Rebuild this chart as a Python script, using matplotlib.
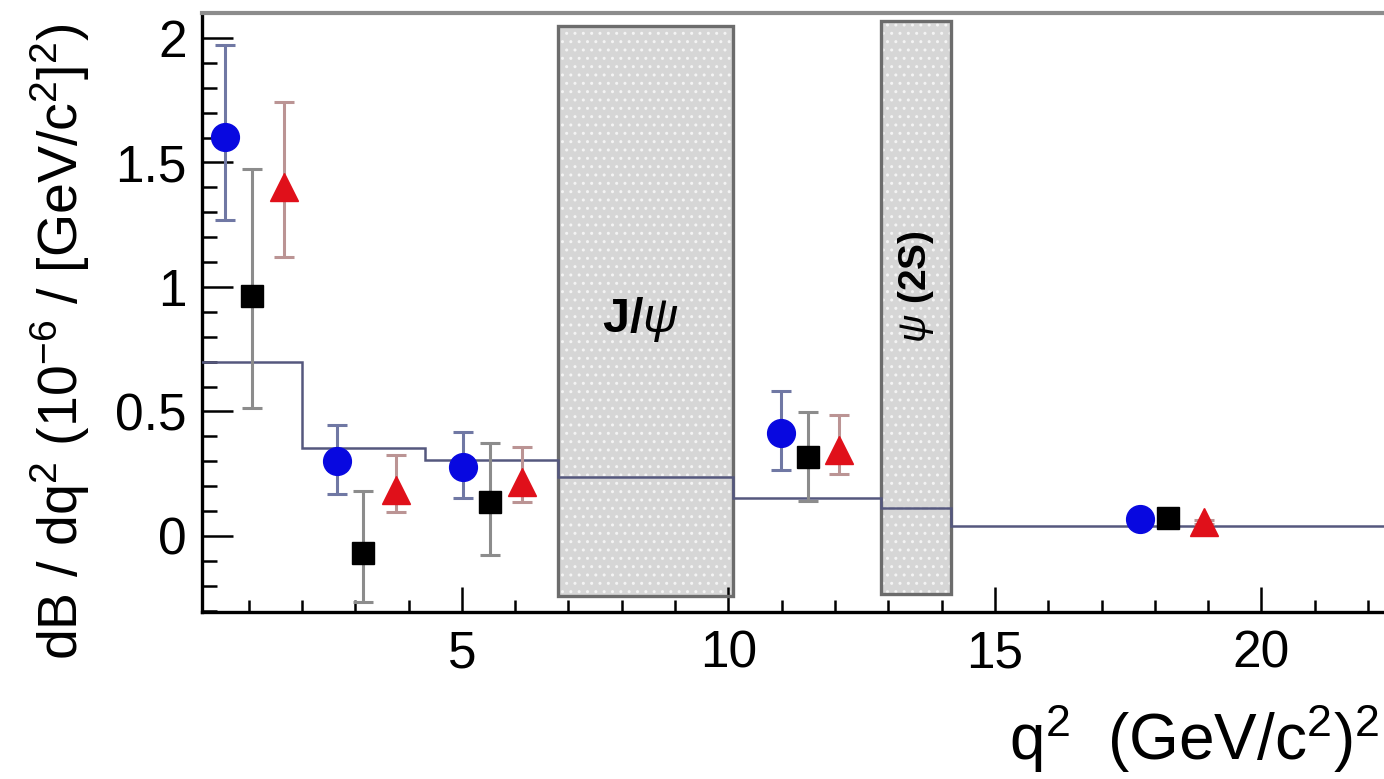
import matplotlib
matplotlib.use("Agg")
import matplotlib.pyplot as plt
from matplotlib.ticker import MultipleLocator, FuncFormatter
import numpy as np

plt.rcParams['font.family'] = ['Liberation Sans', 'DejaVu Sans']
plt.rcParams['mathtext.fontset'] = 'custom'
plt.rcParams['mathtext.rm'] = 'Liberation Sans'
plt.rcParams['mathtext.it'] = 'Liberation Sans:italic'
plt.rcParams['mathtext.bf'] = 'Liberation Sans:bold'

# ---- data ----
sm_edges = [0.0, 2.0, 4.3, 6.8, 10.09, 12.86, 14.18, 22.86]
sm_values = [0.70, 0.353, 0.305, 0.236, 0.154, 0.111, 0.040]

veto_lo = [6.8, 12.86]
veto_hi = [10.09, 14.18]
veto_bottom = [-0.241, -0.233]
veto_top = [2.05, 2.07]
veto_labels = ["J/$\\psi$", "$\\psi$ (2S)"]

blue_x = [0.56, 2.65, 5.03, 10.99, 17.72]
blue_y = [1.604, 0.302, 0.278, 0.412, 0.067]
blue_hi = [1.972, 0.446, 0.416, 0.582, 0.075]
blue_lo = [1.269, 0.167, 0.151, 0.265, 0.060]

black_x = [1.06, 3.15, 5.53, 11.49, 18.24]
black_y = [0.965, -0.067, 0.138, 0.316, 0.071]
black_hi = [1.473, 0.182, 0.372, 0.499, 0.079]
black_lo = [0.513, -0.264, -0.076, 0.141, 0.064]

red_x = [1.67, 3.77, 6.13, 12.08, 18.93]
red_y = [1.403, 0.185, 0.218, 0.345, 0.057]
red_hi = [1.744, 0.325, 0.359, 0.486, 0.064]
red_lo = [1.122, 0.098, 0.138, 0.249, 0.050]

y_ticks = [0, 0.5, 1, 1.5, 2]
x_ticks = [5, 10, 15, 20]

# ---- figure ----
W, H = 1384, 779
fig = plt.figure(figsize=(W / 100, H / 100), dpi=100)
ax = fig.add_axes([202 / W, 1 - 611.7 / H, 1 - 202 / W, (611.7 - 13.3) / H])
ax.set_xlim(0.124, 22.3)
ax.set_ylim(-0.304, 2.099)

# veto boxes
widths = [h - l for l, h in zip(veto_lo, veto_hi)]
heights = [t - b for t, b in zip(veto_top, veto_bottom)]
ax.bar(veto_lo, heights, width=widths, bottom=veto_bottom, align='edge',
       color='#d6d6d6', edgecolor='#f4f4f4', hatch='..', linewidth=0, zorder=1)
ax.bar(veto_lo, heights, width=widths, bottom=veto_bottom, align='edge',
       fill=False, edgecolor='#6c6c6c', linewidth=2.4, zorder=2)

# SM prediction step line
ax.stairs(sm_values, sm_edges, color='#55587e', linewidth=1.8, zorder=3,
          baseline=None)

def draw_series(x, y, hi, lo, marker, mcolor, ecolor, ms):
    y = np.asarray(y); hi = np.asarray(hi); lo = np.asarray(lo)
    yerr = np.vstack([y - lo, hi - y])
    ax.errorbar(x, y, yerr=yerr, fmt='none', ecolor=ecolor, elinewidth=2.2,
                capsize=7, capthick=2.2, zorder=4)
    ax.plot(x, y, linestyle='none', marker=marker, markersize=ms,
            markerfacecolor=mcolor, markeredgecolor=mcolor, zorder=5)

draw_series(blue_x, blue_y, blue_hi, blue_lo, 'o', '#0808e0', '#7078a4', 20)
draw_series(black_x, black_y, black_hi, black_lo, 's', '#000000', '#8c8c8c', 16)
draw_series(red_x, red_y, red_hi, red_lo, '^', '#e0101a', '#bb9494', 20)

# labels in boxes
ax.text((veto_lo[0] + veto_hi[0]) / 2 - 0.1, 0.87, veto_labels[0],
        fontsize=35, fontweight='bold', ha='center', va='center', zorder=6)
ax.text((veto_lo[1] + veto_hi[1]) / 2, 1.0, veto_labels[1],
        fontsize=28, fontweight='bold', ha='center', va='center',
        rotation=90, zorder=6)

# axes styling
for s in ['left', 'bottom']:
    ax.spines[s].set_linewidth(2.4)
    ax.spines[s].set_color('black')
ax.spines['right'].set_visible(False)
ax.spines['top'].set_color('#8c8c8c')
ax.spines['top'].set_linewidth(3)

ax.set_xticks(x_ticks)
ax.set_yticks(y_ticks)
ax.xaxis.set_minor_locator(MultipleLocator(1))
ax.yaxis.set_minor_locator(MultipleLocator(0.1))
ax.yaxis.set_major_formatter(FuncFormatter(lambda v, p: f"{v:g}"))
ax.tick_params(axis='both', which='both', direction='in', top=False, right=False,
               color='black', width=1.8)
ax.tick_params(axis='y', which='major', length=22, pad=11, labelsize=37)
ax.tick_params(axis='y', which='minor', length=11)
ax.tick_params(axis='x', which='major', length=18, pad=13, labelsize=37)
ax.tick_params(axis='x', which='minor', length=9)

fig.text(60 / W, 1 - 341.5 / H,
         "dB / dq$^{2}$ (10$^{-6}$ / [GeV/c$^{2}$]$^{2}$)",
         rotation=90, ha='center', va='center', fontsize=40)
fig.text(1380 / W, 1 - 760 / H, "q$^{2}$  (GeV/c$^{2}$)$^{2}$",
         ha='right', va='baseline', fontsize=46)

fig.savefig("out.png", dpi=100)
